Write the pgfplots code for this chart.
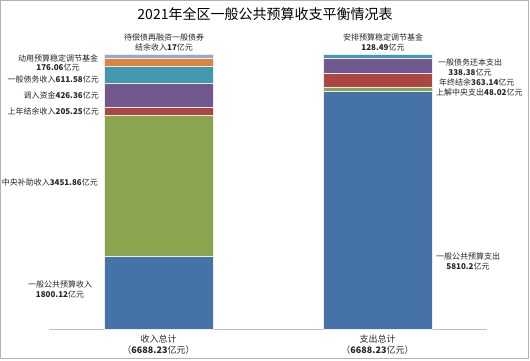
\documentclass[border=0pt]{standalone}
\usepackage{pgfplots}
\pgfplotsset{compat=1.18}
\usepackage{fontspec}
\setmainfont{Noto Sans CJK SC}
\definecolor{cblue}{HTML}{4572A7}
\definecolor{cgreen}{HTML}{89A54E}
\definecolor{cred}{HTML}{AA4643}
\definecolor{cpurple}{HTML}{71588F}
\definecolor{cteal}{HTML}{4198AF}
\definecolor{corange}{HTML}{DB843D}
\definecolor{clblue}{HTML}{93A9CF}
\begin{document}
\begin{tikzpicture}[x=1pt,y=1pt]
\path[use as bounding box] (0,0) rectangle (530,360);
\draw[black!30, line width=0.8pt] (0.6,1.6) rectangle (528.4,359.4);
\begin{axis}[
  at={(49pt,31pt)}, anchor=south west,
  scale only axis, width=438pt, height=287.8pt,
  xmin=-0.5, xmax=1.5, ymin=0, ymax=7000,
  axis x line=bottom, hide y axis,
  axis line style={-, draw=black!25, line width=0.6pt},
  ybar stacked, bar width=109pt,
  xtick={0,1},
  xticklabels={{收入总计\\（\textbf{6688.23}亿元）},{支出总计\\（\textbf{6688.23}亿元）}},
  xticklabel style={align=center, font=\fontsize{9}{10.5}\selectfont, text=black!85, yshift=-2.5pt},
  major tick length=0pt,
  ytick=\empty,
  every axis plot/.append style={draw=white!85!gray, line width=0.5pt},
]
% left bar (income), bottom to top
\addplot[fill=cblue]   coordinates {(0,1775) (1,0)};
\addplot[fill=cgreen]  coordinates {(0,3412) (1,0)};
\addplot[fill=cred]    coordinates {(0,204) (1,0)};
\addplot[fill=cpurple] coordinates {(0,598) (1,0)};
\addplot[fill=cteal]   coordinates {(0,413) (1,0)};
\addplot[fill=corange] coordinates {(0,187) (1,0)};
\addplot[fill=clblue]  coordinates {(0,97) (1,0)};
% right bar (expenditure), bottom to top
\addplot[fill=cblue]   coordinates {(0,0) (1,5771)};
\addplot[fill=cgreen]  coordinates {(0,0) (1,114)};
\addplot[fill=cred]    coordinates {(0,0) (1,340)};
\addplot[fill=cpurple] coordinates {(0,0) (1,365)};
\addplot[fill=cteal]   coordinates {(0,0) (1,97)};
\end{axis}
\node[font=\fontsize{14}{16}\selectfont] at (265,346) {2021年全区一般公共预算收支平衡情况表};
\begin{scope}[every node/.style={font=\fontsize{8}{9.5}\selectfont, text=black!85, inner sep=0pt, align=center}]
\node at (164,317.5) {待偿债再融资一般债券\\结余收入\textbf{17}亿元};
\node at (383,317.5) {安排预算稳定调节基金\\\textbf{128.49}亿元};
\node at (58,297) {动用预算稳定调节基金\\\textbf{176.06}亿元};
\node[anchor=east] at (99,281) {一般债务收入\textbf{611.58}亿元};
\node[anchor=east] at (99,265) {调入资金\textbf{426.36}亿元};
\node[anchor=east] at (99,249) {上年结余收入\textbf{205.25}亿元};
\node[anchor=east] at (98,178) {中央补助收入\textbf{3451.86}亿元};
\node at (60,70.5) {一般公共预算收入\\\textbf{1800.12}亿元};
\node at (470,292.5) {一般债务还本支出\\\textbf{338.38}亿元};
\node[anchor=west] at (439,278) {年终结余\textbf{363.14}亿元};
\node[anchor=west] at (436,268) {上解中央支出\textbf{48.02}亿元};
\node at (468,98.5) {一般公共预算支出\\\textbf{5810.2}亿元};
\end{scope}
\end{tikzpicture}
\end{document}
